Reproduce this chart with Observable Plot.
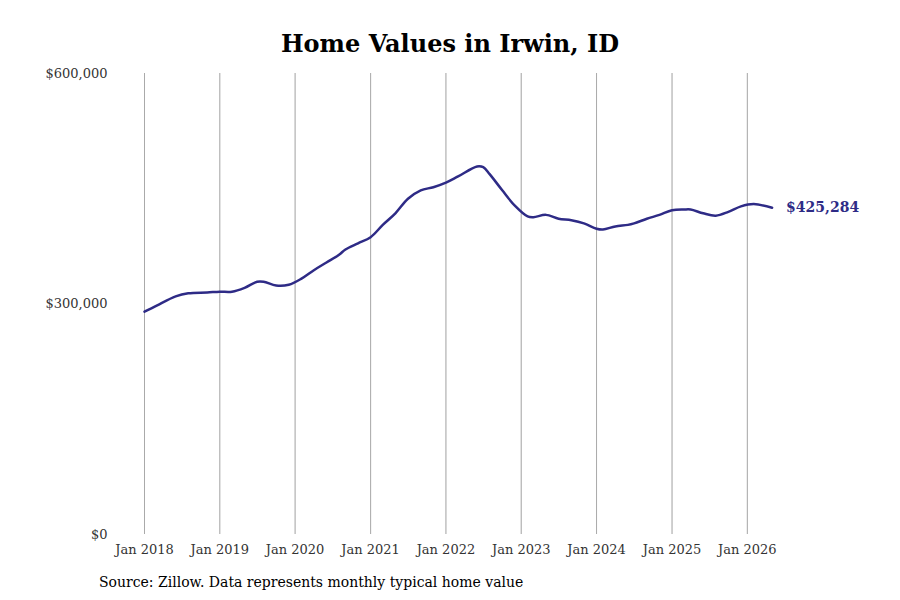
<!DOCTYPE html>
<html><head><meta charset="utf-8">
<script src="https://cdn.jsdelivr.net/npm/d3@7"></script>
<script src="https://cdn.jsdelivr.net/npm/@observablehq/plot@0.6"></script>
<style>
body{margin:0;background:#fff;font-family:"DejaVu Serif",serif;}
#t{height:60px;line-height:88px;text-align:center;font-size:24px;font-weight:bold;}
#c{font-size:14px;margin-left:99px;margin-top:4px;}
</style></head><body>
<div id="t">Home Values in Irwin, ID</div>
<div id="p"></div>
<div id="c">Source: Zillow. Data represents monthly typical home value</div>
<script>
const dates = ["2018-01","2018-03","2018-06","2018-08","2018-11","2019-01","2019-03","2019-05","2019-07","2019-08","2019-10","2019-12","2020-02","2020-04","2020-06","2020-08","2020-09","2020-11","2021-01","2021-03","2021-05","2021-07","2021-09","2021-11","2022-01","2022-03","2022-06","2022-07","2022-08","2022-10","2022-12","2023-02","2023-03","2023-05","2023-07","2023-09","2023-11","2024-01","2024-02","2024-04","2024-06","2024-07","2024-09","2024-11","2025-01","2025-03","2025-04","2025-06","2025-08","2025-10","2025-12","2026-02","2026-05"];
const values = [290000,298000,310000,314000,315000,316000,316000,321000,329000,329000,324000,325000,333000,344000,354000,364000,371000,379000,387000,403000,418000,437000,448000,452000,458000,466000,479000,478000,469000,448000,428000,414000,413000,416000,411000,409000,405000,398000,397000,401000,403000,405000,411000,416000,422000,423000,423000,418000,415000,420000,427000,430000,425284];
const tickDates = ["2018-01","2019-01","2020-01","2021-01","2022-01","2023-01","2024-01","2025-01","2026-01"];
const yTicks = [0,300000,600000];
const data = dates.map((d,i)=>({date:new Date(d+"-01T00:00:00"),value:values[i]}));
const last = data[data.length-1];
const col = "#2e2b86";
const fmt = d3.format("$,");
const plot = Plot.plot({
  width:900,height:510,marginLeft:144,marginRight:122,marginTop:13,marginBottom:36,
  style:{fontFamily:"DejaVu Serif, serif",fontSize:"13px",color:"#333"},
  x:{type:"time",domain:[new Date("2018-01-01T00:00:00"),new Date("2026-06-01T00:00:00")],
     ticks:tickDates.map(d=>new Date(d+"-01T00:00:00")),tickFormat:d3.timeFormat("Jan %Y"),
     tickSize:0,tickPadding:10,label:null,grid:true},
  y:{domain:[0,600000],ticks:yTicks,tickFormat:fmt,tickSize:0,tickPadding:37,label:null},
  marks:[
    Plot.gridX(tickDates.map(d=>new Date(d+"-01T00:00:00")),{stroke:"#aaa",strokeOpacity:1}),
    Plot.line(data,{x:"date",y:"value",stroke:col,strokeWidth:2.5,curve:"catmull-rom"}),
    Plot.text([last],{x:"date",y:"value",text:d=>fmt(d.value),dx:14,textAnchor:"start",fill:col,fontWeight:"bold",fontSize:14})
  ]
});
document.getElementById("p").append(plot);
</script></body></html>
